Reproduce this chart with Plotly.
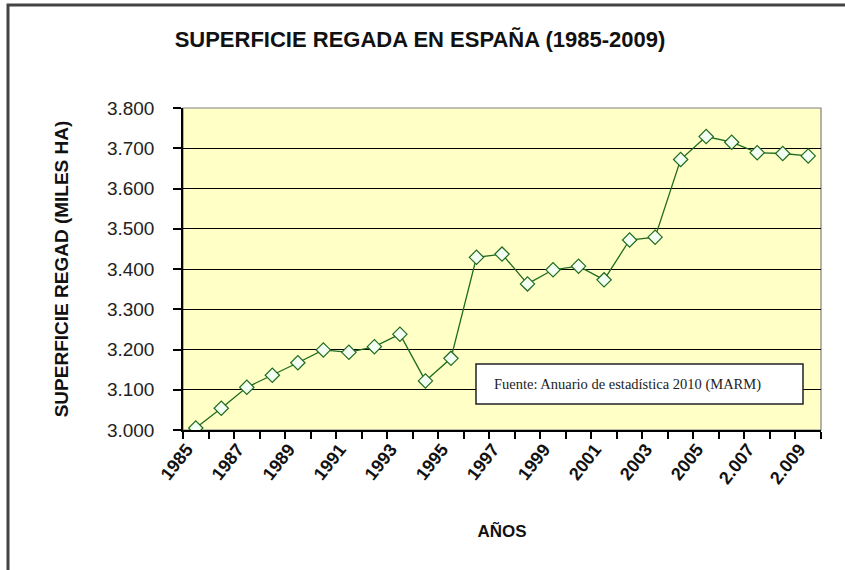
import plotly.graph_objects as go

years = list(range(1985, 2010))
year_labels = [str(y) for y in range(1985, 2006)] + ["2.006", "2.007", "2.008", "2.009"]
superficie = [3005, 3054, 3106, 3136, 3167, 3199, 3193, 3207, 3238, 3122, 3178, 3429,
              3437, 3363, 3398, 3407, 3373, 3472, 3479, 3672, 3729, 3715, 3689, 3687, 3681]
y_ticks = [3000, 3100, 3200, 3300, 3400, 3500, 3600, 3700, 3800]

title_text = "SUPERFICIE REGADA EN ESPAÑA (1985-2009)"
y_title = "SUPERFICIE REGAD (MILES HA)"
x_title = "AÑOS"
source_text = "Fuente: Anuario de estadística 2010 (MARM)"

# plot-area geometry (pixels)
L, R, T, B = 183, 821, 108, 430
W, H = 845, 570
pw, ph = R - L, B - T

def px(x):
    return (x - L) / pw

def py(y):
    return (B - y) / ph

fig = go.Figure()
fig.add_trace(go.Scatter(
    x=years, y=superficie, mode="lines+markers",
    line=dict(color="#1E6B1E", width=1.3),
    marker=dict(symbol="diamond", size=11, color="#F2FFF2",
                line=dict(color="#1E6B1E", width=1.2)),
    showlegend=False, hoverinfo="x+y",
))

bounds = [y - 0.5 for y in years] + [years[-1] + 0.5]

axis_font = dict(family="Liberation Sans, Arial, sans-serif", size=17, color="#111111", weight="bold")

fig.update_layout(
    width=W, height=H,
    margin=dict(l=L, r=W - R, t=T, b=H - B, pad=0),
    paper_bgcolor="white",
    plot_bgcolor="#FFFFC6",
    separators=",.",
    title=dict(text=title_text, x=0.497, xanchor="center", y=1 - 39 / H, yanchor="middle",
               font=dict(family="Liberation Sans, Arial, sans-serif", size=22,
                         color="#111111", weight="bold")),
    xaxis=dict(
        range=[years[0] - 0.5, years[-1] + 0.5],
        tickmode="array", tickvals=years[::2], ticktext=year_labels[::2],
        tickangle=-52, ticks="", tickfont=dict(axis_font, size=18),
        ticklabelshift=-9,
        showgrid=False, zeroline=False,
        showline=True, linecolor="black", linewidth=1.5,
        minor=dict(tickmode="array", tickvals=bounds, ticks="outside", ticklen=7,
                   tickcolor="black", tickwidth=1.5, showgrid=False),
        title=dict(text=x_title, font=axis_font, standoff=38),
    ),
    yaxis=dict(
        range=[3000, 3800], tickmode="array", tickvals=y_ticks,
        tickformat=",d", ticks="outside", ticklen=8, tickcolor="black", tickwidth=1.5,
        tickfont=dict(family="Liberation Sans, Arial, sans-serif", size=19, color="#222222"),
        ticklabelstandoff=15,
        showgrid=True, gridcolor="black", gridwidth=1.2,
        zeroline=False, showline=True, linecolor="black", linewidth=1.5,
        title=dict(text=y_title, font=dict(axis_font, size=19), standoff=33),
    ),
    shapes=[
        # plot-area frame (top/right in gray)
        dict(type="rect", xref="paper", yref="paper", x0=0, x1=1, y0=0, y1=1,
             line=dict(color="#808080", width=1.2), layer="below"),
        # outer chart border
        dict(type="rect", xref="paper", yref="paper",
             x0=px(8), x1=px(847), y0=py(574), y1=py(5),
             line=dict(color="#444444", width=3)),
        # source box
        dict(type="rect", xref="paper", yref="paper",
             x0=px(476), x1=px(803), y0=py(404), y1=py(364),
             fillcolor="white", line=dict(color="#222222", width=1.5), layer="above"),
    ],
    annotations=[
        dict(text=source_text, xref="paper", yref="paper", x=px(492), y=py(384),
             xanchor="left", yanchor="middle", showarrow=False,
             font=dict(family="Liberation Serif, Times New Roman, serif", size=14.5, color="#222222")),
    ],
)

fig.write_html("out.html", config={"displayModeBar": False},
               post_script="document.body.style.margin='0';")
